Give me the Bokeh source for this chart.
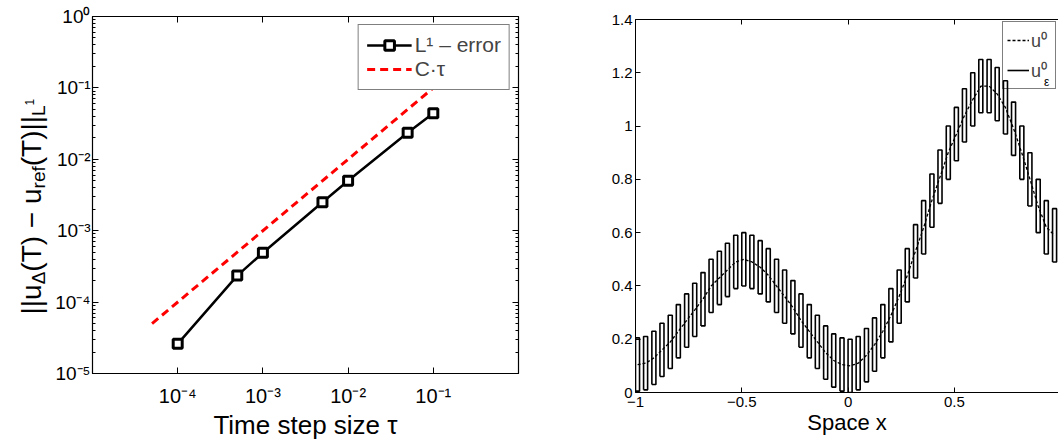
import math
from bokeh.plotting import figure
from bokeh.layouts import row, column
from bokeh.models import (LogAxis, LinearAxis, FixedTicker, CustomJSTickFormatter,
                          Legend, LegendItem, Range1d)
from bokeh.core.properties import value
from bokeh.embed import file_html
from bokeh.resources import INLINE

FONT = "Liberation Sans"

# ---------------- data: left panel (convergence) ----------------
tau = [1e-4, 5e-4, 1e-3, 5e-3, 1e-2, 5e-2, 1e-1]
l1_error = [2.6e-5, 2.35e-4, 4.9e-4, 2.5e-3, 5.0e-3, 2.35e-2, 4.4e-2]
ref_tau = [5e-5, 1e-1]
ref_c_tau = [5e-5, 1e-1]          # C*tau with C = 1

x_ticks_left = [1e-4, 1e-3, 1e-2, 1e-1]
y_ticks_left = [1e-5, 1e-4, 1e-3, 1e-2, 1e-1, 1e0]

# ---------------- data: right panel (profiles) ----------------
cell_left = [-1.000, -0.962, -0.923, -0.885, -0.846, -0.808, -0.769, -0.731, -0.692, -0.654,
             -0.615, -0.577, -0.538, -0.500, -0.462, -0.423, -0.385, -0.346, -0.308, -0.269,
             -0.231, -0.192, -0.154, -0.115, -0.077, -0.038,
             0.000, 0.038, 0.077, 0.115, 0.154, 0.192, 0.231, 0.269, 0.308, 0.346,
             0.385, 0.423, 0.462, 0.500, 0.538, 0.577, 0.615, 0.654, 0.692, 0.731,
             0.769, 0.808, 0.846, 0.885, 0.923, 0.962]
cell_right = [-0.981, -0.943, -0.904, -0.866, -0.827, -0.789, -0.750, -0.712, -0.673, -0.635,
              -0.596, -0.558, -0.519, -0.481, -0.443, -0.404, -0.366, -0.327, -0.289, -0.250,
              -0.212, -0.173, -0.135, -0.096, -0.058, -0.019,
              0.019, 0.057, 0.096, 0.134, 0.173, 0.211, 0.250, 0.288, 0.327, 0.365,
              0.404, 0.442, 0.481, 0.519, 0.557, 0.596, 0.634, 0.673, 0.711, 0.750,
              0.788, 0.827, 0.865, 0.904, 0.942, 0.981]
cell_mid = [-0.990, -0.952, -0.913, -0.875, -0.836, -0.798, -0.760, -0.721, -0.683, -0.644,
            -0.606, -0.567, -0.529, -0.490, -0.452, -0.413, -0.375, -0.337, -0.298, -0.260,
            -0.221, -0.183, -0.144, -0.106, -0.067, -0.029,
            0.010, 0.048, 0.087, 0.125, 0.164, 0.202, 0.240, 0.279, 0.317, 0.356,
            0.394, 0.433, 0.471, 0.510, 0.548, 0.587, 0.625, 0.664, 0.702, 0.740,
            0.779, 0.817, 0.856, 0.894, 0.933, 0.971]
u0 = [0.105, 0.11, 0.13, 0.16, 0.19, 0.23, 0.27, 0.31, 0.35, 0.40,
      0.43, 0.46, 0.49, 0.50, 0.49, 0.47, 0.44, 0.40, 0.36, 0.32,
      0.27, 0.23, 0.19, 0.15, 0.12, 0.105,
      0.10, 0.11, 0.14, 0.18, 0.23, 0.29, 0.36, 0.44, 0.53, 0.62,
      0.72, 0.81, 0.90, 0.97, 1.04, 1.10, 1.15, 1.15, 1.12, 1.07,
      0.99, 0.90, 0.80, 0.70, 0.62, 0.59]
u_eps_high = [0.205, 0.21, 0.23, 0.26, 0.29, 0.33, 0.37, 0.41, 0.45, 0.50,
              0.53, 0.56, 0.59, 0.60, 0.59, 0.57, 0.54, 0.50, 0.46, 0.42,
              0.37, 0.33, 0.29, 0.25, 0.22, 0.205,
              0.20, 0.21, 0.24, 0.28, 0.33, 0.39, 0.46, 0.54, 0.63, 0.72,
              0.82, 0.91, 1.00, 1.07, 1.14, 1.20, 1.25, 1.25, 1.22, 1.17,
              1.09, 1.00, 0.90, 0.80, 0.72, 0.69]
u_eps_low = [0.005, 0.01, 0.03, 0.06, 0.09, 0.13, 0.17, 0.21, 0.25, 0.30,
             0.33, 0.36, 0.39, 0.40, 0.39, 0.37, 0.34, 0.30, 0.26, 0.22,
             0.17, 0.13, 0.09, 0.05, 0.02, 0.005,
             0.00, 0.01, 0.04, 0.08, 0.13, 0.19, 0.26, 0.34, 0.43, 0.52,
             0.62, 0.71, 0.80, 0.87, 0.94, 1.00, 1.05, 1.05, 1.02, 0.97,
             0.89, 0.80, 0.70, 0.60, 0.52, 0.49]

x_ticks_right = [-1, -0.5, 0, 0.5, 1]
y_ticks_right = [0, 0.2, 0.4, 0.6, 0.8, 1.0, 1.2, 1.4]

# ---------------- helpers ----------------
pow_fmt = CustomJSTickFormatter(code="""
const e = Math.round(Math.log10(tick));
const sup = {'0':'\u2070','1':'\u00b9','2':'\u00b2','3':'\u00b3','4':'\u2074','5':'\u2075',
             '6':'\u2076','7':'\u2077','8':'\u2078','9':'\u2079','-':'\u207b'};
return '10' + String(e).split('').map(c => sup[c]).join('');
""")
blank_fmt = CustomJSTickFormatter(code="return '';")
lin_fmt = CustomJSTickFormatter(code="""
const v = Math.round(tick * 10) / 10;
return v.toString().replace('-', '\u2212');
""")


def style_axis(ax, size, tick_in=6, minor_in=3):
    ax.major_tick_in = tick_in
    ax.major_tick_out = 0
    ax.minor_tick_in = minor_in
    ax.minor_tick_out = 0
    ax.axis_line_color = "black"
    ax.major_tick_line_color = "black"
    ax.minor_tick_line_color = "black"
    ax.major_label_text_font = FONT
    ax.major_label_text_font_size = size
    ax.major_label_text_color = "black"
    ax.axis_label_text_font = FONT
    ax.axis_label_text_font_style = "normal"
    ax.axis_label_text_color = "black"


def bare_axis(ax):
    ax.major_label_text_font_size = "0px"
    ax.major_label_standoff = 0
    ax.axis_line_color = None
    ax.major_tick_out = 0
    ax.minor_tick_out = 0


# ---------------- y-axis title strip for the left panel ----------------
LAB_W = 50
p_lab = figure(width=LAB_W, height=442, x_range=Range1d(0, LAB_W), y_range=Range1d(442, 0),
               output_backend="svg", toolbar_location=None, min_border=0,
               min_border_left=0, min_border_right=0, min_border_top=0, min_border_bottom=0)
p_lab.xaxis.visible = False
p_lab.yaxis.visible = False
p_lab.xgrid.visible = False
p_lab.ygrid.visible = False
p_lab.outline_line_color = None

pieces = [
    ("||u", "big"), ("\u0394", "sub"), ("(T) \u2212 u", "big"), ("ref", "sub"),
    ("(T)||", "big"), ("L", "sub"), ("1", "sup"),
]
sizes = {"big": 28, "sub": 19, "sup": 12}
base = {"big": 31.0, "sub": 38.0, "sup": 29.0}
widths = {"|": 0.26, "u": 0.556, "\u0394": 0.668, "(": 0.333, ")": 0.333, "T": 0.611,
          " ": 0.278, "\u2212": 0.584, "r": 0.333, "e": 0.556, "f": 0.278, "L": 0.556, "1": 0.556}
groups = {k: {"x": [], "y": [], "t": []} for k in sizes}
cy = 314.0
for txt, kind in pieces:
    groups[kind]["x"].append(base[kind])
    groups[kind]["y"].append(cy)
    groups[kind]["t"].append(txt)
    cy -= sum(widths[c] for c in txt) * sizes[kind]
for kind, g in groups.items():
    p_lab.text(x=g["x"], y=g["y"], text=g["t"], angle=math.pi / 2,
               text_font=value(FONT), text_font_size=f"{sizes[kind]}px",
               text_align="left", text_baseline="alphabetic", text_color="black")

# ---------------- left figure ----------------
p1 = figure(width=540 - LAB_W, height=442, x_axis_type="log", y_axis_type="log",
            x_range=(1e-5, 1), y_range=(1e-5, 1),
            output_backend="svg", toolbar_location=None,
            min_border_left=92 - LAB_W, min_border_right=22, min_border_top=16,
            min_border_bottom=69)
p1.xgrid.visible = False
p1.ygrid.visible = False
p1.outline_line_color = "black"
p1.outline_line_alpha = 1
p1.outline_line_width = 1.2

minor_y = [k * 10.0 ** d for d in range(-5, 0) for k in range(2, 10)]

xa = p1.xaxis[0]
xa.ticker = FixedTicker(ticks=x_ticks_left, minor_ticks=[])
xa.formatter = pow_fmt
style_axis(xa, "20px")
xa.major_label_standoff = 11
xa.axis_label = "Time step size \u03c4"
xa.axis_label_text_font_size = "26px"
xa.axis_label_standoff = 0

ya = p1.yaxis[0]
ya.ticker = FixedTicker(ticks=y_ticks_left, minor_ticks=minor_y)
ya.formatter = pow_fmt
style_axis(ya, "19px")
ya.major_label_standoff = 2

top1 = LogAxis(ticker=FixedTicker(ticks=x_ticks_left, minor_ticks=[]), formatter=blank_fmt)
style_axis(top1, "0px")
bare_axis(top1)
p1.add_layout(top1, "above")
right1 = LogAxis(ticker=FixedTicker(ticks=y_ticks_left, minor_ticks=minor_y), formatter=blank_fmt)
style_axis(right1, "0px")
bare_axis(right1)
p1.add_layout(right1, "right")

r_ref = p1.line(ref_tau, ref_c_tau, line_color="red", line_width=3, line_dash="8 5")
r_err = p1.line(tau, l1_error, line_color="black", line_width=2.5)
r_sq = p1.scatter(tau, l1_error, marker="square", size=9, line_color="black",
                  line_width=3, fill_color="white")

leg1 = Legend(items=[LegendItem(label="L\u00b9 \u2013 error", renderers=[r_err, r_sq]),
                     LegendItem(label="C\u00b7\u03c4", renderers=[r_ref])],
              location="top_right")
leg1.label_text_font = FONT
leg1.label_text_font_size = "21px"
leg1.glyph_width = 45
leg1.glyph_height = 24
leg1.label_height = 24
leg1.label_standoff = 3
leg1.padding = 8
leg1.spacing = 0
leg1.margin = 8
leg1.border_line_color = "black"
leg1.border_line_width = 1.5
leg1.background_fill_alpha = 1
p1.add_layout(leg1)

# ---------------- right figure ----------------
p2 = figure(width=518, height=442, x_range=(-1, 0.99), y_range=(0, 1.4),
            output_backend="svg", toolbar_location=None,
            min_border_left=95, min_border_right=0, min_border_top=19, min_border_bottom=50)
p2.xgrid.visible = False
p2.ygrid.visible = False
p2.outline_line_color = None

xb = p2.xaxis[0]
xb.ticker = FixedTicker(ticks=x_ticks_right, minor_ticks=[])
xb.formatter = lin_fmt
style_axis(xb, "15px", tick_in=5)
xb.major_label_standoff = 4
xb.axis_label = "Space x"
xb.axis_label_text_font_size = "22px"
xb.axis_label_standoff = 0

yb = p2.yaxis[0]
yb.ticker = FixedTicker(ticks=y_ticks_right, minor_ticks=[])
yb.formatter = lin_fmt
style_axis(yb, "15px", tick_in=5)
yb.major_label_standoff = 3

top2 = LinearAxis(ticker=FixedTicker(ticks=x_ticks_right, minor_ticks=[]), formatter=blank_fmt)
style_axis(top2, "0px", tick_in=5)
top2.major_label_text_font_size = "0px"
top2.major_label_standoff = 0
top2.major_tick_out = 0
p2.add_layout(top2, "above")

xs_rect = [[l, r, r, l, l] for l, r in zip(cell_left, cell_right)]
ys_rect = [[lo, lo, hi, hi, lo] for lo, hi in zip(u_eps_low, u_eps_high)]
r_eps = p2.multi_line(xs_rect, ys_rect, line_color="black", line_width=1.6)
r_u0 = p2.line(cell_mid, u0, line_color="black", line_width=1.3, line_dash="3 2")

# subscript epsilon of the second legend entry (sits under the legend's "u0")
p2.text(x=[0.922], y=[1.165], text=["\u03b5"], text_font=value(FONT),
        text_font_size="12px", text_align="left", text_baseline="alphabetic",
        text_color="black")

leg2 = Legend(items=[LegendItem(label="u\u2070", renderers=[r_u0]),
                     LegendItem(label="u\u2070", renderers=[r_eps])],
              location="top_right")
leg2.label_text_font = FONT
leg2.label_text_font_size = "18px"
leg2.glyph_width = 22
leg2.glyph_height = 28
leg2.label_height = 28
leg2.label_standoff = 2
leg2.padding = 4
leg2.spacing = 2
leg2.margin = 2
leg2.border_line_color = "black"
leg2.border_line_width = 1.5
leg2.background_fill_alpha = 0
p2.add_layout(leg2)

layout = row(column(p_lab), column(p1), column(p2))
with open("out.html", "w", encoding="utf-8") as f:
    f.write(file_html(layout, INLINE))
